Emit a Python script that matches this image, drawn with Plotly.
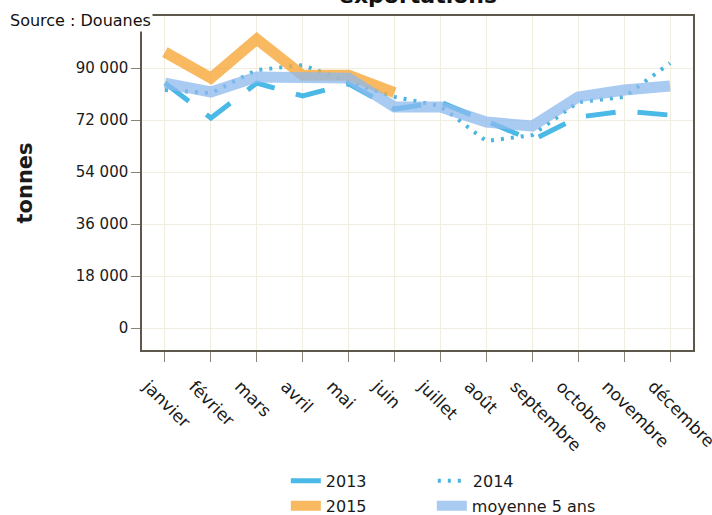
import plotly.graph_objects as go

mois = ["janvier", "février", "mars", "avril", "mai", "juin", "juillet",
        "août", "septembre", "octobre", "novembre", "décembre"]

v2013 = [84800, 72700, 84800, 80300, 84500, 75800, 78200, 71700, 65000, 73000, 75100, 73700]
v2014 = [82400, 81300, 89300, 91000, 85200, 80000, 76800, 64700, 66800, 78200, 80000, 91700]
v2015 = [95500, 86500, 100000, 87500, 87500, 81500]
moy5 = [84800, 81700, 86900, 86900, 86500, 76500, 76500, 71300, 69900, 80000, 82400, 83800]

ytick_vals = [0, 18000, 36000, 54000, 72000, 90000]
ytick_text = ["0", "18 000", "36 000", "54 000", "72 000", "90 000"]

FONT = "DejaVu Sans"

fig = go.Figure()
fig.add_trace(go.Scatter(x=mois, y=v2013, mode="lines", name="2013",
                         line=dict(color="rgb(75,185,230)", width=5, dash="30px,22px"),
                         legend="legend"))
fig.add_trace(go.Scatter(x=mois, y=v2014, mode="lines", name="2014",
                         line=dict(color="rgb(75,180,225)", width=4, dash="3px,7px"),
                         legend="legend"))
fig.add_trace(go.Scatter(x=mois[:len(v2015)], y=v2015, mode="lines", name="2015",
                         line=dict(color="rgba(246,168,58,0.8)", width=11),
                         legend="legend2"))
fig.add_trace(go.Scatter(x=mois, y=moy5, mode="lines", name="moyenne 5 ans",
                         line=dict(color="rgba(140,185,238,0.75)", width=11),
                         legend="legend3"))

leg_common = dict(orientation="h", xanchor="left", yanchor="top",
                  font=dict(size=16), bgcolor="rgba(0,0,0,0)", tracegroupgap=0)

fig.update_layout(
    width=712, height=515,
    margin=dict(l=142, r=19, t=16, b=165, autoexpand=False),
    paper_bgcolor="white", plot_bgcolor="white",
    font=dict(family=FONT, size=15, color="#1a1a1a"),
    showlegend=True,
    legend=dict(x=0.261, y=-0.341, entrywidth=102, **leg_common),
    legend2=dict(x=0.261, y=-0.416, **leg_common),
    legend3=dict(x=0.526, y=-0.416, **leg_common),
    annotations=[
        dict(text="<b>exportations</b>", x=0.5, y=1.06, xref="paper", yref="paper",
             xanchor="center", yanchor="middle", showarrow=False,
             font=dict(size=22, color="#111")),
        dict(text="Source : Douanes", x=-0.243, y=0.988, xref="paper", yref="paper",
             xanchor="left", yanchor="middle", showarrow=False, bgcolor="white",
             font=dict(size=16, color="#111")),
    ],
)

fig.update_xaxes(
    range=[-0.5, 11.5], tickangle=45, showgrid=True, gridcolor="#f1eedf",
    showline=True, linecolor="#5e574c", linewidth=1.5, mirror=True, automargin=False,
    ticks="outside", ticklen=10, tickcolor="#8a8478", tickfont=dict(size=17),
    ticklabelshift=-17, ticklabelstandoff=8,
)
fig.update_yaxes(
    range=[-7600, 108000], tickvals=ytick_vals, ticktext=ytick_text,
    showgrid=True, gridcolor="#f1eedf", zeroline=False, automargin=False,
    showline=True, linecolor="#5e574c", linewidth=1.5, mirror=True,
    ticks="outside", ticklen=9, tickcolor="#8a8478", tickfont=dict(size=15),
    title=dict(text="<b>tonnes</b>", font=dict(size=21), standoff=37),
)

fig.write_html("out.html", config={"displayModeBar": False},
               post_script="document.body.style.margin='0px';")
